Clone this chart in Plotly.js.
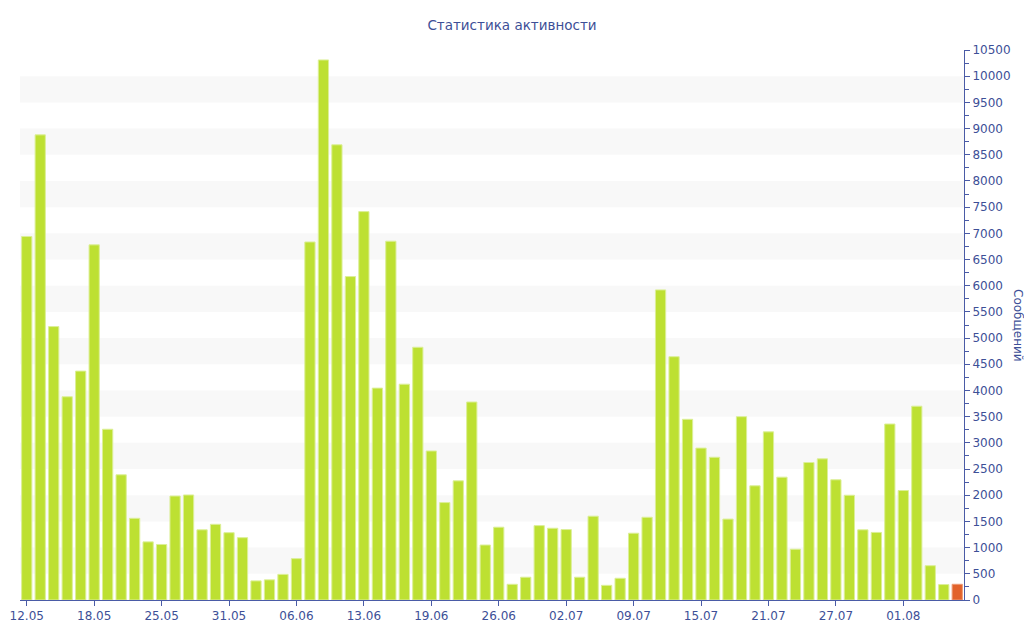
<!DOCTYPE html>
<html>
<head>
<meta charset="utf-8">
<script src="https://cdn.plot.ly/plotly-3.0.1.min.js"></script>
<style>
    html, body { margin: 0; padding: 0; background: #fff; }
    #chart { width: 1024px; height: 640px; }
</style>
</head>
<body>
<div id="chart"></div>
<script>
    // messages per day
    var messages = [
        6940, 8880, 5220, 3880, 4370, 6780, 3260, 2390, 1560, 1110,
        1060, 1985, 2005, 1340, 1445, 1285, 1190, 365, 385, 490,
        790, 6835, 10310, 8690, 6175, 7415, 4045, 6850, 4120, 4825,
        2845, 1860, 2275, 3780, 1050, 1390, 300, 435, 1420, 1370,
        1345, 435, 1600, 280, 415, 1275, 1580, 5920, 4645, 3450,
        2900, 2725, 1545, 3500, 2180, 3210, 2345, 970, 2625, 2695,
        2295, 2000, 1340, 1290, 3360, 2090, 3700, 655, 295, 300
    ];

    // every fifth day gets a label
    var tickDays = [0, 5, 10, 15, 20, 25, 30, 35, 40, 45, 50, 55, 60, 65];
    var tickLabels = [
        "12.05", "18.05", "25.05", "31.05", "06.06", "13.06", "19.06",
        "26.06", "02.07", "09.07", "15.07", "21.07", "27.07", "01.08"
    ];

    var days = messages.map(function (v, i) { return i; });

    var axisColor = "#4a5ba6";
    var textColor = "#3d4f97";

    // the current (unfinished) day is drawn in orange
    var colors = messages.map(function (v, i) {
        return i === messages.length - 1 ? "#e2622b" : "#bde032";
    });
    var edges = messages.map(function (v, i) {
        return i === messages.length - 1 ? "#ee9a74" : "#dcef98";
    });

    var bands = [];
    for (var b = 500; b < 10500; b += 1000) {
        bands.push({
            type: "rect",
            xref: "paper", yref: "y",
            x0: 0, x1: 1, y0: b, y1: b + 500,
            fillcolor: "#f8f8f8",
            line: {width: 0},
            layer: "below"
        });
    }

    var trace = {
        type: "bar",
        x: days,
        y: messages,
        marker: {color: colors, line: {color: edges, width: 1}},
        hoverinfo: "y"
    };

    var layout = {
        width: 1024,
        height: 640,
        autosize: false,
        margin: {l: 20, r: 60, t: 50, b: 40, pad: 0},
        paper_bgcolor: "#ffffff",
        plot_bgcolor: "rgba(0,0,0,0)",
        font: {family: "Verdana, 'DejaVu Sans', sans-serif", size: 12, color: textColor},
        title: {
            text: "Статистика активности",
            font: {size: 13.5, color: textColor},
            x: 0.5, xanchor: "center",
            y: 1 - 25 / 640, yanchor: "middle"
        },
        bargap: 0.24,
        showlegend: false,
        shapes: bands,
        xaxis: {
            range: [-0.5, messages.length - 0.5],
            tickmode: "array",
            tickvals: tickDays,
            ticktext: tickLabels,
            ticks: "outside",
            ticklen: 5,
            tickcolor: axisColor,
            showline: true,
            linecolor: axisColor,
            linewidth: 1,
            showgrid: false,
            zeroline: false,
            fixedrange: true,
            tickfont: {size: 12, color: textColor}
        },
        yaxis: {
            side: "right",
            range: [0, 10500],
            tickmode: "linear",
            tick0: 0,
            dtick: 500,
            tickformat: "d",
            ticks: "outside",
            ticklen: 5,
            tickcolor: axisColor,
            minor: {dtick: 250, ticks: "outside", ticklen: 4, tickcolor: axisColor, showgrid: false},
            showline: true,
            linecolor: axisColor,
            linewidth: 1,
            showgrid: false,
            zeroline: false,
            fixedrange: true,
            tickfont: {size: 12, color: textColor}
        },
        annotations: [{
            text: "Сообщений",
            xref: "paper", yref: "paper",
            x: 1 + 54 / 944, y: 0.5,
            xanchor: "center", yanchor: "middle",
            textangle: 90,
            showarrow: false,
            font: {size: 12, color: textColor}
        }]
    };

    Plotly.newPlot("chart", [trace], layout, {displayModeBar: false, staticPlot: true});
</script>
</body>
</html>
